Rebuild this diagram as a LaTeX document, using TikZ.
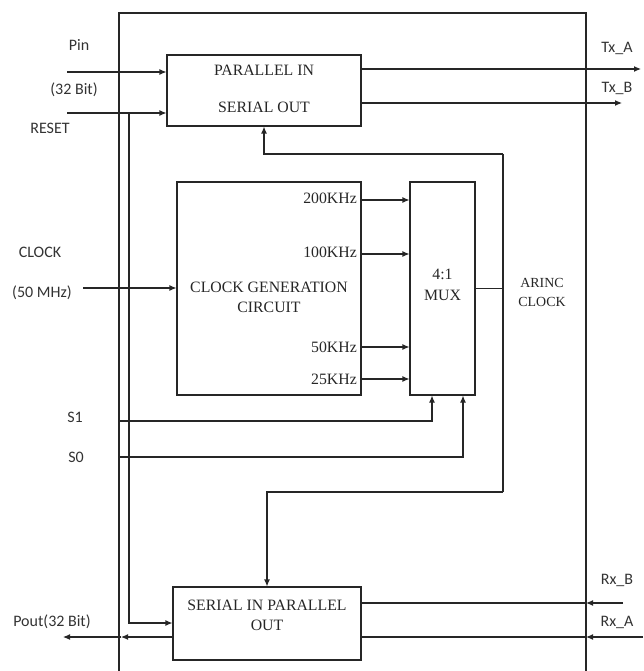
\documentclass[tikz,border=0pt]{standalone}
\usepackage{fontspec}
\setmainfont{Liberation Serif}
\newfontfamily\labfont{Carlito}
\usetikzlibrary{arrows.meta,calc}
\begin{document}
\begin{tikzpicture}[x=1pt,y=-1pt,
  ln/.style={line width=1.1pt, draw=black!85},
  arr/.style={ln, -{Latex[length=7pt,width=6pt]}},
  blk/.style={ln, rectangle, inner sep=0pt},
  sl/.style={font=\labfont\fontsize{16}{19}\selectfont, inner sep=0pt, text=black!80},
  rl/.style={font=\fontsize{15.8}{20}\selectfont, inner sep=0pt, text=black!85, align=center}]
\useasboundingbox (0,0) rectangle (643,671);
% outer frame
\coordinate (oTL) at (119,13);
\coordinate (oTR) at (586,13);
\coordinate (oBL) at (119,671);
\coordinate (oBR) at (586,671);
\draw[ln] (oBL) -- (oTL) -- (oTR) -- (oBR);
% blocks
\node[blk, minimum width=194pt, minimum height=71pt] (piso) at (264,90.5) {};
\node[rl] (pisoA) at (264,70) {PARALLEL IN};
\node[rl] (pisoB) at (264,107) {SERIAL OUT};
\node[blk, minimum width=184pt, minimum height=213pt] (cgen) at (269,288.5) {};
\node[rl] (cgenT) at (269,297) {CLOCK GENERATION\\CIRCUIT};
\node[rl, anchor=east] (f1) at (357,198) {200KHz};
\node[rl, anchor=east] (f2) at (357,252) {100KHz};
\node[rl, anchor=east] (f3) at (357,347) {50KHz};
\node[rl, anchor=east] (f4) at (357,379) {25KHz};
\node[blk, minimum width=65pt, minimum height=213pt] (mux) at (442.5,288.5) {};
\node[rl, font=\fontsize{15.8}{21}\selectfont] (muxT) at (442.5,284.5) {4:1\\MUX};
\node[blk, minimum width=188pt, minimum height=73pt] (sipo) at (267,623.5) {};
\node[rl] (sipoT) at (267,615) {SERIAL IN PARALLEL\\OUT};
\node[rl, font=\fontsize{13.9}{19}\selectfont] (arinc) at (542,292.5) {ARINC\\CLOCK};
% outside labels
\node[sl] (lpin) at (79,45) {Pin};
\node[sl] (lbit) at (74,90) {(32 Bit)};
\node[sl] (lrst) at (50,128) {RESET};
\node[sl] (lclk) at (40,252) {CLOCK};
\node[sl] (lmhz) at (42,293) {(50 MHz)};
\node[sl] (ls1) at (75,417) {S1};
\node[sl] (ls0) at (76,457) {S0};
\node[sl] (ltxa) at (617,48) {Tx\_A};
\node[sl] (ltxb) at (617,88) {Tx\_B};
\node[sl] (lrxb) at (617,580) {Rx\_B};
\node[sl] (lrxa) at (617,622) {Rx\_A};
\node[sl] (lpout) at (52,622) {Pout(32 Bit)};
% inputs to PISO
\coordinate (pinS) at (67,72);
\draw[arr] (pinS) -- (pinS -| piso.west);
\coordinate (rstS) at (67,113);
\draw[arr] (rstS) -- (rstS -| piso.west);
\coordinate (rstJ) at (129,113);
\coordinate (rstD) at (129,623);
\draw[arr] (rstJ) -- (rstD) -- (rstD -| sipo.west);
% Tx outputs
\coordinate (txa) at (641,69);
\draw[arr] (txa -| piso.east) -- (txa);
\coordinate (txb) at (622,103);
\draw[arr] (txb -| piso.east) -- (txb);
% clock
\coordinate (clkS) at (83,288);
\draw[arr] (clkS) -- (clkS -| cgen.west);
\coordinate (y200) at (0,200);
\coordinate (y100) at (0,254);
\coordinate (y50) at (0,347);
\coordinate (y25) at (0,379);
\draw[arr] (y200 -| cgen.east) -- (y200 -| mux.west);
\draw[arr] (y100 -| cgen.east) -- (y100 -| mux.west);
\draw[arr] (y50 -| cgen.east) -- (y50 -| mux.west);
\draw[arr] (y25 -| cgen.east) -- (y25 -| mux.west);
% ARINC clock loop
\coordinate (loopT) at (503,154);
\coordinate (loopB) at (503,492);
\draw[ln] (mux.east) -- (mux.east -| loopT);
\draw[ln] (loopT) -- (loopB);
\draw[arr] (loopT) -| (piso.south);
\draw[arr] (loopB) -| (sipo.north);
% selects
\coordinate (s1S) at (119,421);
\coordinate (s1E) at (432,0);
\draw[arr] (s1S) -| (s1E |- mux.south);
\coordinate (s0S) at (119,457);
\coordinate (s0E) at (463,0);
\draw[arr] (s0S) -| (s0E |- mux.south);
% Rx inputs
\coordinate (rxb) at (623,603);
\draw[arr] (rxb) -- (rxb -| oTR);
\draw[ln] (rxb -| oTR) -- (rxb -| sipo.east);
\coordinate (rxa) at (643,637);
\draw[arr] (rxa) -- (rxa -| oTR);
\draw[ln] (rxa -| oTR) -- (rxa -| sipo.east);
% Pout
\coordinate (poutM) at (121,637);
\coordinate (poutE) at (63,637);
\draw[arr] (poutM -| sipo.west) -- (poutM);
\draw[arr] (poutM) -- (poutE);
\end{tikzpicture}
\end{document}
